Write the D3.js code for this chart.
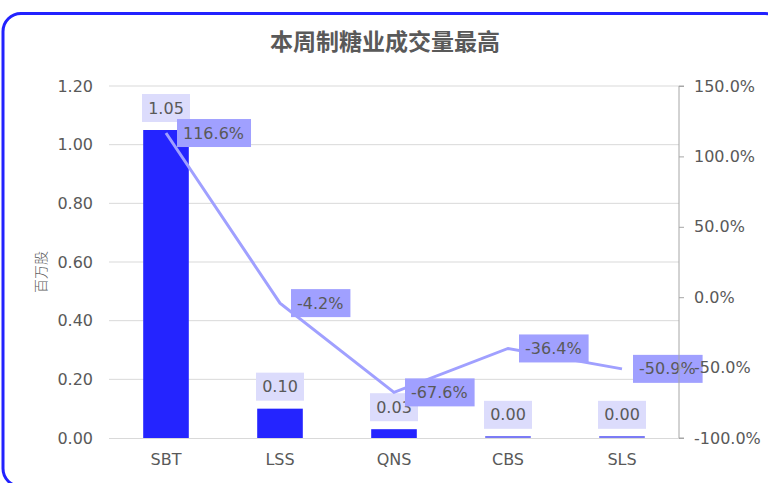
<!DOCTYPE html>
<html>
<head>
<meta charset="utf-8">
<script src="https://cdn.jsdelivr.net/npm/d3@7"></script>
<style>
  body { margin: 0; background: #fff; overflow: hidden; }
  text { font-family: "DejaVu Sans", sans-serif; }
</style>
</head>
<body>
<svg id="chart" width="768" height="483"></svg>
<script>
// chart data
const categories = ["SBT", "LSS", "QNS", "CBS", "SLS"];
const volumes = [1.05, 0.10, 0.03, 0.004, 0.004];
const volumeLabels = ["1.05", "0.10", "0.03", "0.00", "0.00"];
const changes = [116.6, -4.2, -67.6, -36.4, -50.9];
const leftTicks = [0, 0.2, 0.4, 0.6, 0.8, 1.0, 1.2];
const rightTicks = [-100, -50, 0, 50, 100, 150];
const title = "本周制糖业成交量最高";
const yTitle = "百万股";

const svg = d3.select("#chart");
const plotL = 109, plotR = 679, plotT = 86, plotB = 438;
const grey = "#595959";

// frame (runs off the right and bottom edges like the original)
svg.append("rect").attr("x", 3).attr("y", 13.5).attr("width", 780).attr("height", 473)
    .attr("rx", 18).attr("fill", "#fff").attr("stroke", "#2222ff").attr("stroke-width", 3);

svg.append("text").attr("x", 385).attr("y", 50).attr("text-anchor", "middle")
    .attr("font-size", 23).attr("font-weight", "bold").attr("fill", grey)
    .style("font-family", "'Noto Sans CJK SC', sans-serif").text(title);

const x = d3.scaleBand().domain(categories).range([plotL, plotR]).paddingInner(0.6).paddingOuter(0.3);
const y = d3.scaleLinear().domain([0, 1.2]).range([plotB, plotT]);
const y2 = d3.scaleLinear().domain([-100, 150]).range([plotB, plotT]);

// grid
svg.append("g").selectAll("line").data(leftTicks.slice(1)).join("line")
    .attr("x1", plotL).attr("x2", plotR).attr("y1", d => y(d)).attr("y2", d => y(d))
    .attr("stroke", "#d9d9d9").attr("stroke-width", 1);

// left axis
const gl = svg.append("g").attr("transform", `translate(${plotL},0)`)
    .call(d3.axisLeft(y).tickValues(leftTicks).tickFormat(d3.format(".2f")).tickSize(0).tickPadding(16));
gl.select(".domain").remove();
gl.selectAll("text").attr("font-size", 16).attr("fill", grey).style("font-family", "'DejaVu Sans', sans-serif");

// bottom axis
const gb = svg.append("g").attr("transform", `translate(0,${plotB})`)
    .call(d3.axisBottom(x).tickSize(0).tickPadding(16));
gb.select(".domain").attr("stroke", "#d9d9d9").attr("d", `M${plotL},0.5H${plotR}`);
gb.selectAll("text").attr("font-size", 16).attr("fill", grey).style("font-family", "'DejaVu Sans', sans-serif");

// y title
svg.append("text").attr("transform", "translate(46,272) rotate(-90)").attr("text-anchor", "middle")
    .attr("font-size", 14).attr("fill", grey).style("font-family", "'Noto Sans CJK SC', sans-serif")
    .attr("font-weight", 300).text(yTitle);

// bars (near-zero bars show as a faint sliver)
svg.append("g").selectAll("rect").data(categories).join("rect")
    .attr("x", d => x(d)).attr("width", x.bandwidth())
    .attr("y", (d, i) => Math.min(y(volumes[i]), plotB - 2)).attr("height", (d, i) => Math.max(plotB - y(volumes[i]), 2))
    .attr("fill", (d, i) => plotB - y(volumes[i]) < 2 ? "#7b7bf5" : "#2424ff");

// bar labels
const bl = svg.append("g").selectAll("g").data(categories).join("g")
    .attr("transform", (d, i) => `translate(${x(d) + x.bandwidth() / 2},${y(volumes[i]) - 22})`);
bl.append("rect").attr("x", -24).attr("y", -14).attr("width", 48).attr("height", 28).attr("fill", "#dcdcfc");
bl.append("text").attr("text-anchor", "middle").attr("dy", "0.35em").attr("font-size", 16)
    .attr("fill", grey).text((d, i) => volumeLabels[i]);

// line
const cx = d => x(d) + x.bandwidth() / 2;
svg.append("path").datum(categories)
    .attr("d", d3.line().x(d => cx(d)).y((d, i) => y2(changes[i])))
    .attr("fill", "none").attr("stroke", "#a0a0ff").attr("stroke-width", 3);

// line labels
const ll = svg.append("g").selectAll("g").data(categories).join("g")
    .attr("transform", (d, i) => `translate(${cx(d) + 11},${y2(changes[i])})`);
ll.append("text").attr("x", 6).attr("dy", "0.35em").attr("font-size", 16).attr("fill", grey)
    .text((d, i) => changes[i].toFixed(1) + "%")
    .each(function () {
        const w = this.getComputedTextLength();
        d3.select(this.parentNode).insert("rect", "text").attr("x", 0).attr("y", -14)
            .attr("width", w + 13).attr("height", 28).attr("fill", "#a0a0ff");
    });

// right axis (on top, as in the original)
const gr = svg.append("g").attr("transform", `translate(${plotR},0)`)
    .call(d3.axisRight(y2).tickValues(rightTicks).tickFormat(d => d.toFixed(1) + "%").tickSize(5).tickPadding(10));
gr.select(".domain").attr("stroke", "#a6a6a6").attr("d", `M5,${plotT}H0V${plotB}H5`);
gr.selectAll("line").attr("stroke", "#a6a6a6");
gr.selectAll("text").attr("font-size", 16).attr("fill", grey).style("font-family", "'DejaVu Sans', sans-serif");
</script>
</body>
</html>
